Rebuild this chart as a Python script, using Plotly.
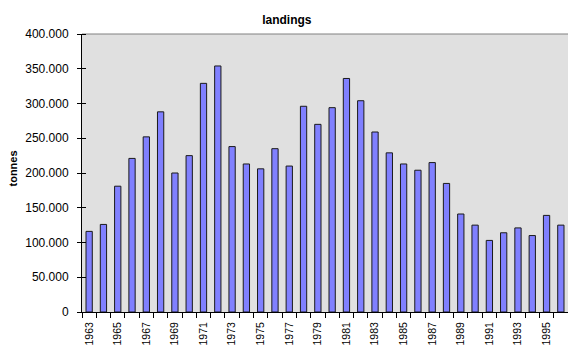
import plotly.graph_objects as go

# Annual landings, tonnes
years = list(range(1963, 1997))
landings = [
    116000, 126000, 181000, 221000, 252000, 288000, 200000, 225000,
    329000, 354000, 238000, 213000, 206000, 235000, 210000, 296000,
    270000, 294000, 336000, 304000, 259000, 229000, 213000, 204000,
    215000, 185000, 141000, 125000, 103000, 114000, 121000, 110000,
    139000, 125000,
]
year_labels = [str(y) for y in years[::2]]
y_ticks = list(range(0, 400001, 50000))

FONT = "Arial, Liberation Sans, sans-serif"

fig = go.Figure(
    go.Bar(
        x=years,
        y=landings,
        marker=dict(color="#8080FF", line=dict(color="#1a1a1a", width=1)),
    )
)

fig.update_layout(
    width=568,
    height=347,
    margin=dict(l=82, r=0, t=34, b=35),
    paper_bgcolor="white",
    plot_bgcolor="#E0E0E0",
    bargap=0.56,
    separators=",.",
    showlegend=False,
    font=dict(family=FONT, size=12, color="black"),
    title=dict(
        text="<b>landings</b>",
        x=0.505, xanchor="center",
        y=1 - 20 / 347, yanchor="middle",
        font=dict(family=FONT, size=12, color="black"),
    ),
    annotations=[
        dict(
            text="<b>tonnes</b>",
            xref="paper", yref="paper",
            x=(12.5 - 82) / 486, y=1 - (169 - 34) / 278,
            xanchor="center", yanchor="middle",
            textangle=-90, showarrow=False,
            font=dict(family=FONT, size=11, color="black"),
        )
    ],
    shapes=[
        # grey frame along the top of the plotting area
        dict(type="line", xref="paper", yref="paper",
             x0=0, x1=1, y0=1, y1=1, layer="below",
             line=dict(color="#808080", width=1)),
    ],
)

fig.update_xaxes(
    range=[years[0] - 0.5, years[-1] + 0.5],
    automargin=False,
    tickmode="array",
    tickvals=years[::2],
    ticktext=year_labels,
    tickangle=-90,
    ticks="outside",
    ticklen=0,
    ticklabelstandoff=5,
    tickfont=dict(family=FONT, size=10.5),
    minor=dict(
        tickmode="linear", tick0=years[0] - 0.5, dtick=1,
        ticks="outside", ticklen=5, tickcolor="black", tickwidth=1,
        showgrid=False,
    ),
    showline=True, linecolor="black", linewidth=1,
    showgrid=False, zeroline=False,
)

fig.update_yaxes(
    range=[0, 400000],
    automargin=False,
    tickmode="array",
    tickvals=y_ticks,
    tickformat=",d",
    ticks="outside",
    ticklen=4, tickcolor="black",
    ticklabelstandoff=6,
    tickfont=dict(family=FONT, size=12),
    minor=dict(
        tickmode="array", tickvals=[v + 1 for v in y_ticks],
        ticks="inside", ticklen=4, tickcolor="black", tickwidth=1,
        showgrid=False,
    ),
    showline=True, linecolor="black", linewidth=1,
    showgrid=False, zeroline=False,
)

fig.write_html("out.html")
